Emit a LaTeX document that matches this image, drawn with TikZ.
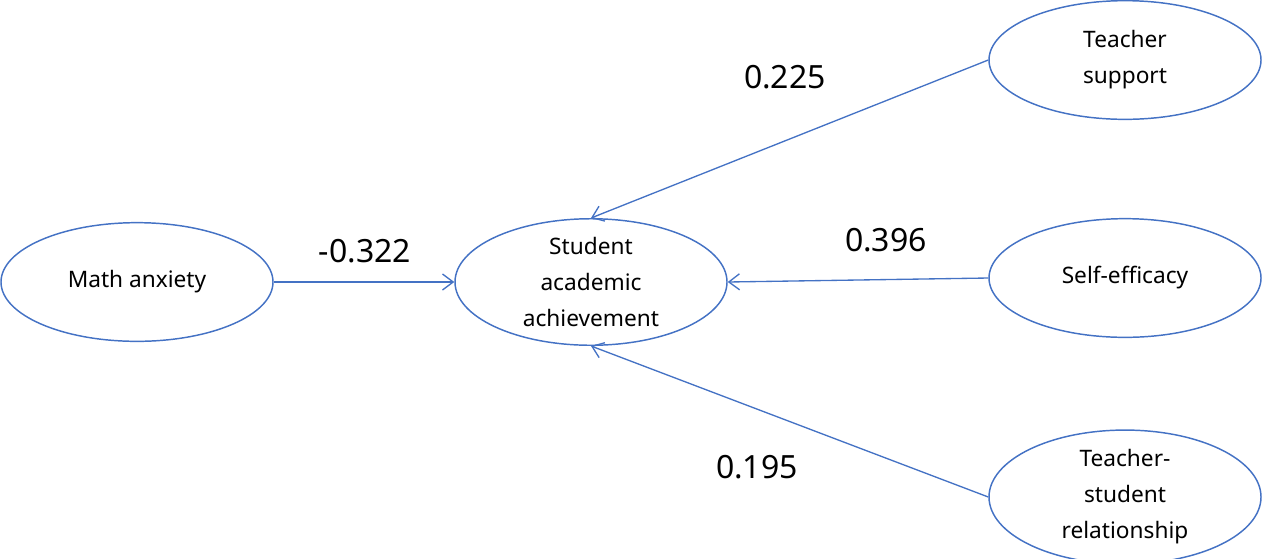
\documentclass[tikz,border=0pt]{standalone}
\usepackage{fontspec}
\setmainfont{Noto Sans}
\usetikzlibrary{shapes.geometric,arrows.meta}
\definecolor{eblue}{HTML}{4472C4}
\begin{document}
\begin{tikzpicture}[x=0.75pt,y=-0.75pt,
  ell/.style={ellipse,draw=eblue,line width=1.1pt,minimum width=204pt,minimum height=89pt,inner sep=0pt,align=center,font=\fontsize{17pt}{27pt}\selectfont},
  conn/.style={draw=eblue,line width=1pt,-{Straight Barb[length=8pt,width=12pt]}},
  num/.style={font=\fontsize{24pt}{28pt}\selectfont}]
\useasboundingbox (0,0) rectangle (1262,558);
\node[ell] (ma) at (137,282) {Math anxiety};
\node[ell] (sa) at (591,282) {Student\\academic\\achievement};
\node[ell] (ts) at (1125,60) {Teacher\\support};
\node[ell] (se) at (1125,278) {Self-efficacy};
\node[ell] (tr) at (1125,497) {Teacher-\\student\\relationship};
\draw[conn] (ma) -- (sa);
\draw[conn] (ts.west) -- (sa.north);
\draw[conn] (se.west) -- (sa.east);
\draw[conn] (tr.west) -- (sa.south);
\node[num] (n1) at (785,77) {0.225};
\node[num] (n2) at (886,240) {0.396};
\node[num] (n3) at (365,251) {-0.322};
\node[num] (n4) at (757,467) {0.195};
\end{tikzpicture}
\end{document}
